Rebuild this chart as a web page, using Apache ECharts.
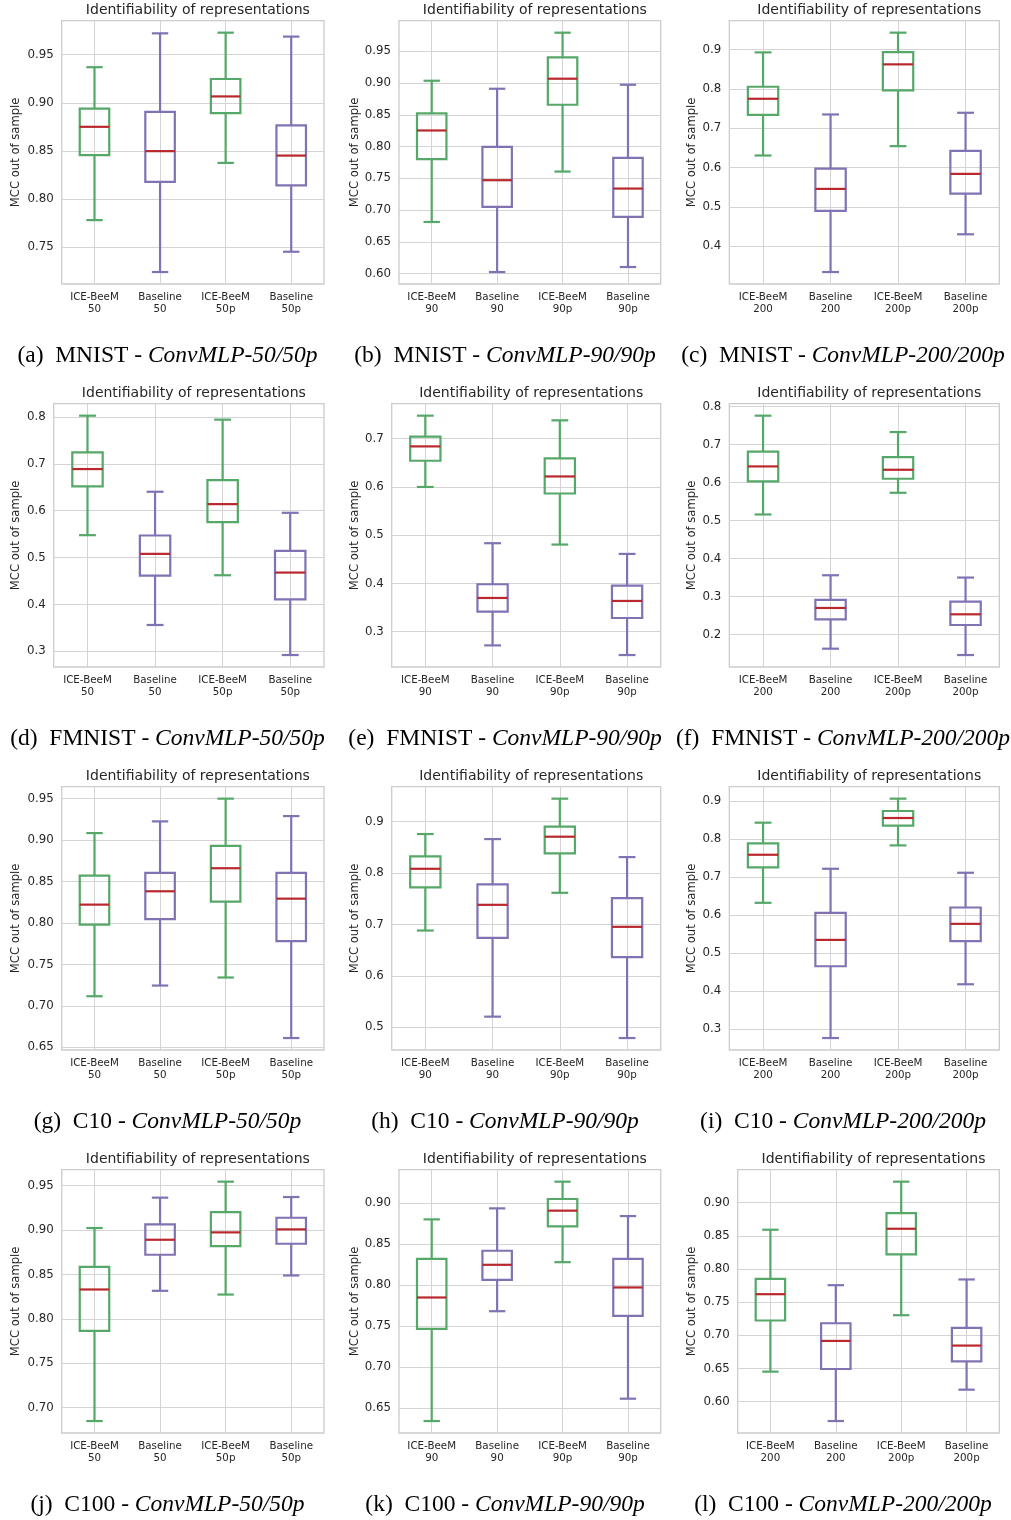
<!DOCTYPE html>
<html>
<head>
<meta charset="utf-8">
<script src="https://cdn.jsdelivr.net/npm/echarts@6/dist/echarts.min.js"></script>
<style>
html,body{margin:0;padding:0;background:#fff;}
#chart{width:1011px;height:1520px;}
</style>
</head>
<body>
<div id="chart"></div>
<script>
// ---------- DATA: each box = [lowerWhisker, Q1, median, Q3, upperWhisker] ----------
const methods = ['ICE-BeeM', 'Baseline', 'ICE-BeeM', 'Baseline'];
const cats50  = ['ICE-BeeM\n50', 'Baseline\n50', 'ICE-BeeM\n50p', 'Baseline\n50p'];
const cats90  = ['ICE-BeeM\n90', 'Baseline\n90', 'ICE-BeeM\n90p', 'Baseline\n90p'];
const cats200 = ['ICE-BeeM\n200', 'Baseline\n200', 'ICE-BeeM\n200p', 'Baseline\n200p'];

const mnist50 = [[0.778,0.8455,0.875,0.894,0.937],[0.724,0.8177,0.8497,0.8906,0.9722],[0.8375,0.8892,0.9066,0.9247,0.9729],[0.7451,0.8142,0.8451,0.8764,0.9688]];
const mnist90 = [[0.6813,0.7802,0.8254,0.8522,0.9037],[0.6025,0.705,0.7471,0.7996,0.8911],[0.7607,0.8659,0.9069,0.9405,0.9794],[0.6104,0.6892,0.7339,0.7823,0.8974]];
const mnist200 = [[0.6309,0.7345,0.7752,0.8058,0.8932],[0.3346,0.49,0.546,0.5978,0.7353],[0.6547,0.7964,0.8627,0.894,0.9433],[0.4306,0.5341,0.5842,0.6428,0.7396]];
const fmnist50 = [[0.5479,0.6519,0.6889,0.7245,0.8028],[0.3563,0.4617,0.508,0.5472,0.6405],[0.4624,0.5756,0.6141,0.6654,0.7943],[0.2922,0.4111,0.4681,0.5144,0.5956]];
const fmnist90 = [[0.6,0.6543,0.6841,0.7042,0.7478],[0.2716,0.3415,0.3699,0.3983,0.4834],[0.4806,0.5865,0.6218,0.6592,0.7381],[0.2516,0.3284,0.3637,0.3955,0.4612]];
const fmnist200 = [[0.5162,0.6032,0.6427,0.6814,0.7763],[0.1629,0.2402,0.2701,0.2912,0.3562],[0.5733,0.6102,0.6339,0.6673,0.7332],[0.1462,0.2253,0.2534,0.2868,0.3501]];
const c10_50 = [[0.7117,0.798,0.8222,0.8573,0.9085],[0.7246,0.8048,0.8383,0.8605,0.9226],[0.7343,0.8258,0.8661,0.8931,0.95],[0.6613,0.7782,0.8294,0.8605,0.929]];
const c10_90 = [[0.6883,0.7721,0.8084,0.8325,0.876],[0.5208,0.674,0.7383,0.7779,0.8662],[0.7617,0.8383,0.8708,0.8903,0.9448],[0.4792,0.6364,0.6955,0.7513,0.8312]];
const c10_200 = [[0.6329,0.726,0.7594,0.7893,0.8438],[0.277,0.4659,0.5353,0.6065,0.7225],[0.784,0.8359,0.8561,0.8745,0.907],[0.4185,0.5318,0.5775,0.6206,0.712]];
const c100_50 = [[0.685,0.7865,0.8331,0.8586,0.9023],[0.8316,0.8722,0.8891,0.9064,0.9365],[0.8274,0.882,0.8974,0.9203,0.9545],[0.8489,0.8846,0.9008,0.9139,0.9372]];
const c100_90 = [[0.6346,0.7467,0.785,0.8321,0.8801],[0.7683,0.8065,0.8248,0.8419,0.8935],[0.828,0.8715,0.8907,0.9049,0.926],[0.6618,0.7626,0.7972,0.8321,0.8841]];
const c100_200 = [[0.6452,0.7223,0.762,0.7852,0.8592],[0.5707,0.6492,0.6915,0.7182,0.7756],[0.7303,0.822,0.8607,0.8844,0.9317],[0.618,0.6608,0.6845,0.7112,0.7842]];

// y tick labels per panel
const ticksA = [0.75,0.80,0.85,0.90,0.95];
const ticksB = [0.60,0.65,0.70,0.75,0.80,0.85,0.90,0.95];
const ticksC = [0.4,0.5,0.6,0.7,0.8,0.9];
const ticksD = [0.3,0.4,0.5,0.6,0.7,0.8];
const ticksE = [0.3,0.4,0.5,0.6,0.7];
const ticksF = [0.2,0.3,0.4,0.5,0.6,0.7,0.8];
const ticksG = [0.65,0.70,0.75,0.80,0.85,0.90,0.95];
const ticksH = [0.5,0.6,0.7,0.8,0.9];
const ticksI = [0.3,0.4,0.5,0.6,0.7,0.8,0.9];
const ticksJ = [0.70,0.75,0.80,0.85,0.90,0.95];
const ticksK = [0.65,0.70,0.75,0.80,0.85,0.90];
const ticksL = [0.60,0.65,0.70,0.75,0.80,0.85,0.90];
const xPositions = [0, 1, 2, 3];

const captionLabels = ['(a)','(b)','(c)','(d)','(e)','(f)','(g)','(h)','(i)','(j)','(k)','(l)'];
const datasets = ['MNIST','FMNIST','C10','C100'];
const models = ['ConvMLP-50/50p','ConvMLP-90/90p','ConvMLP-200/200p'];
const chartTitle = 'Identifiability of representations';
const yName = 'MCC out of sample';

// ---------- PANELS ----------
const panels = [
  {data: mnist50,  cats: cats50,  ticks: ticksA, dec: 2, left: 61.7},
  {data: mnist90,  cats: cats90,  ticks: ticksB, dec: 2, left: 399},
  {data: mnist200, cats: cats200, ticks: ticksC, dec: 1, left: 729.3},
  {data: fmnist50, cats: cats50,  ticks: ticksD, dec: 1, left: 53.7},
  {data: fmnist90, cats: cats90,  ticks: ticksE, dec: 1, left: 391.7},
  {data: fmnist200,cats: cats200, ticks: ticksF, dec: 1, left: 729.3},
  {data: c10_50,   cats: cats50,  ticks: ticksG, dec: 2, left: 61.7},
  {data: c10_90,   cats: cats90,  ticks: ticksH, dec: 1, left: 391.7},
  {data: c10_200,  cats: cats200, ticks: ticksI, dec: 1, left: 729.3},
  {data: c100_50,  cats: cats50,  ticks: ticksJ, dec: 2, left: 61.7},
  {data: c100_90,  cats: cats90,  ticks: ticksK, dec: 2, left: 399},
  {data: c100_200, cats: cats200, ticks: ticksL, dec: 2, left: 737.7}
];

const rowTop = [0, 383, 766, 1149];
const colRight = [324, 660.7, 999.3];
const colYLabelX = [16, 355, 692];
const colCaptionX = [166.5, 504, 842];
const GREEN = '#55a868', PURPLE = '#8172b3', RED = '#b8282c';
const TXT = '#262626', GRIDC = '#d4d4d4';
const SANS = 'DejaVu Sans';
const SERIF = 'Liberation Serif';

function renderBox(params, api) {
  const x = api.value(0);
  const lo = api.coord([x, api.value(1)]);
  const q1 = api.coord([x, api.value(2)]);
  const md = api.coord([x, api.value(3)]);
  const q3 = api.coord([x, api.value(4)]);
  const hi = api.coord([x, api.value(5)]);
  const band = api.size([1, 0])[0];
  const bw = band * 0.45, cw = band * 0.25;
  const cx = lo[0];
  const color = api.visual('color');
  const ls = {stroke: color, lineWidth: 2.2, fill: null};
  return {
    type: 'group',
    children: [
      {type: 'line', shape: {x1: cx, y1: q1[1], x2: cx, y2: lo[1]}, style: ls},
      {type: 'line', shape: {x1: cx, y1: q3[1], x2: cx, y2: hi[1]}, style: ls},
      {type: 'line', shape: {x1: cx - cw / 2, y1: lo[1], x2: cx + cw / 2, y2: lo[1]}, style: ls},
      {type: 'line', shape: {x1: cx - cw / 2, y1: hi[1], x2: cx + cw / 2, y2: hi[1]}, style: ls},
      {type: 'rect', shape: {x: cx - bw / 2, y: q3[1], width: bw, height: q1[1] - q3[1]}, style: {stroke: color, lineWidth: 2.2, fill: 'rgba(0,0,0,0)'}},
      {type: 'line', shape: {x1: cx - bw / 2, y1: md[1], x2: cx + bw / 2, y2: md[1]}, style: {stroke: RED, lineWidth: 2.2}}
    ]
  };
}

const option = {
  animation: false,
  backgroundColor: '#ffffff',
  title: [], grid: [], xAxis: [], yAxis: [], series: []
};

panels.forEach((p, i) => {
  const row = Math.floor(i / 3), col = i % 3;
  const top = rowTop[row] + 20.7;
  const height = 263.3;
  const width = colRight[col] - p.left;
  let mn = Infinity, mx = -Infinity;
  p.data.forEach(b => { mn = Math.min(mn, b[0]); mx = Math.max(mx, b[4]); });
  const pad = (mx - mn) * 0.05;

  option.grid.push({left: p.left, top: top, width: width, height: height, show: true,
    borderColor: '#cccccc', borderWidth: 1.3, backgroundColor: '#ffffff', containLabel: false});

  option.xAxis.push({
    type: 'value', gridIndex: i, min: -0.5, max: 3.5,
    axisLine: {show: false},
    axisTick: {show: false, customValues: xPositions},
    splitLine: {show: true, lineStyle: {color: GRIDC, width: 1}},
    axisLabel: {color: TXT, fontFamily: SANS, fontSize: 10.3, lineHeight: 12, margin: 7,
      customValues: xPositions, formatter: v => p.cats[Math.round(v)]}
  });

  option.yAxis.push({
    type: 'value', gridIndex: i, min: mn - pad, max: mx + pad,
    axisLine: {show: false},
    axisTick: {show: false, customValues: p.ticks},
    splitLine: {show: true, lineStyle: {color: GRIDC, width: 1}},
    axisLabel: {color: TXT, fontFamily: SANS, fontSize: 11.8, margin: 8, customValues: p.ticks,
      formatter: v => Number(v).toFixed(p.dec)},
    name: yName, nameLocation: 'middle', nameRotate: 90,
    nameGap: p.left - colYLabelX[col] - 6,
    nameTextStyle: {color: TXT, fontFamily: SANS, fontSize: 11.6}
  });

  option.series.push({
    type: 'custom', xAxisIndex: i, yAxisIndex: i,
    renderItem: renderBox,
    encode: {x: 0, y: [1, 2, 3, 4, 5]},
    data: p.data.map((b, k) => ({
      value: [xPositions[k]].concat(b),
      itemStyle: {color: methods[k] === 'ICE-BeeM' ? GREEN : PURPLE}
    })),
    z: 5
  });

  option.title.push({
    text: chartTitle, left: p.left + width / 2, top: rowTop[row] - 2,
    textAlign: 'center',
    textStyle: {color: TXT, fontFamily: SANS, fontSize: 14, fontWeight: 'normal'}
  });

  option.title.push({
    text: captionLabels[i] + '  ' + datasets[row] + ' - {it|' + models[col] + '}',
    left: colCaptionX[col] - 4, top: rowTop[row] + 339,
    textAlign: 'center',
    textStyle: {color: '#000', fontFamily: SERIF, fontSize: 23.5, fontWeight: 'normal',
      rich: {it: {fontFamily: SERIF, fontStyle: 'italic', fontSize: 23.5, color: '#000'}}}
  });
});

const chart = echarts.init(document.getElementById('chart'), null, {renderer: 'canvas'});
chart.setOption(option);
</script>
</body>
</html>
